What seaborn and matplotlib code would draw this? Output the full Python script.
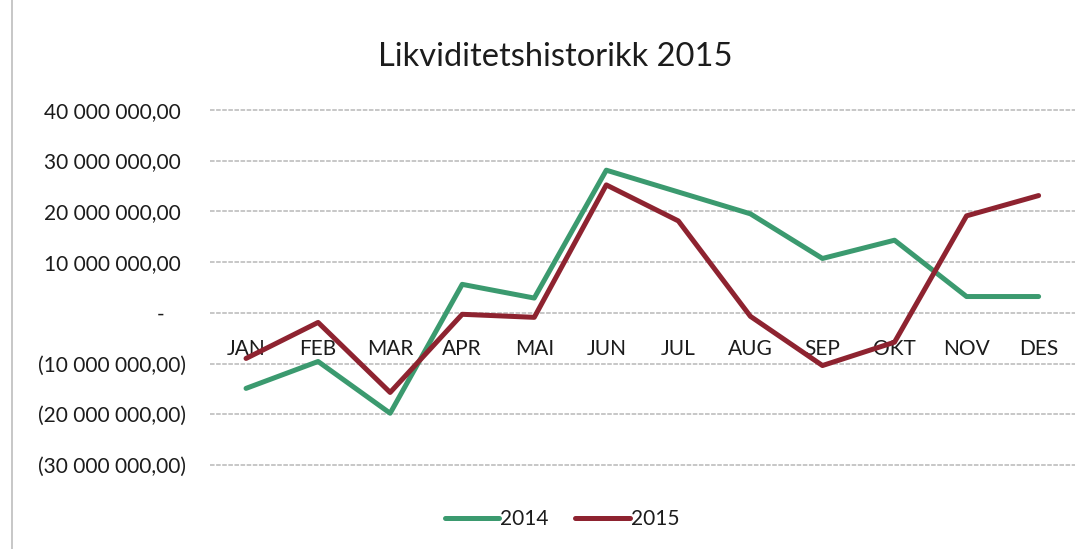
import matplotlib
matplotlib.use("Agg")
import matplotlib.pyplot as plt
import matplotlib.ticker as mticker
from matplotlib.lines import Line2D
import seaborn as sns
import pandas as pd

months = ["JAN", "FEB", "MAR", "APR", "MAI", "JUN", "JUL", "AUG", "SEP", "OKT", "NOV", "DES"]
values_2014 = [-14.9e6, -9.6e6, -19.8e6, 5.6e6, 2.9e6, 28.1e6, 23.8e6, 19.5e6, 10.7e6, 14.3e6, 3.2e6, 3.2e6]
values_2015 = [-9.0e6, -1.9e6, -15.7e6, -0.3e6, -0.9e6, 25.2e6, 18.1e6, -0.7e6, -10.4e6, -5.8e6, 19.1e6, 23.1e6]
series_names = ["2014", "2015"]
y_ticks = [-30e6, -20e6, -10e6, 0, 10e6, 20e6, 30e6, 40e6]

df = pd.DataFrame({
    "idx": list(range(len(months))) * 2,
    "value": values_2014 + values_2015,
    "series": [series_names[0]] * len(months) + [series_names[1]] * len(months),
})

sns.set_theme(style="white")
plt.rcParams["font.family"] = ["Lato", "DejaVu Sans"]

colors = {"2014": "#3b9a6f", "2015": "#8e2330"}
text_color = "#1c1c1c"

fig = plt.figure(figsize=(10.91, 5.49), dpi=100)
ax = fig.add_axes([0.1925, 0.153, 0.7925, 0.647])
ax.set_axisbelow(True)

sns.lineplot(data=df, x="idx", y="value", hue="series", palette=colors,
             linewidth=3.6, ax=ax, legend=False, zorder=3)

ax.set_xlim(-0.5, len(months) - 0.5)
ax.set_ylim(y_ticks[0], y_ticks[-1])
ax.set_yticks(y_ticks)


def fmt(v, pos):
    if abs(v) < 1:
        return "-    "
    s = f"{abs(v):,.2f}".replace(",", " ").replace(".", ",")
    return f"({s})" if v < 0 else s + " "


ax.yaxis.set_major_formatter(mticker.FuncFormatter(fmt))
ax.tick_params(axis="y", length=0, pad=17, labelsize=15, labelcolor=text_color)
ax.grid(axis="y", color="#b8b8b8", linewidth=1.1, linestyle=(0, (3, 1)))
ax.grid(axis="x", visible=False)
for gl in ax.get_ygridlines():
    gl.set_clip_on(False)

ax.set_xticks(range(len(months)))
ax.set_xticklabels(months)
ax.spines["bottom"].set_position(("data", 0))
ax.tick_params(axis="x", length=0, pad=19, labelsize=15, labelcolor=text_color)
for s in ["top", "right", "left", "bottom"]:
    ax.spines[s].set_visible(False)
ax.set_xlabel("")
ax.set_ylabel("")

fig.text(0.509, 0.897, "Likviditetshistorikk 2015", ha="center", va="center",
         fontsize=23.5, color=text_color)

handles = [Line2D([0], [0], color=colors[n], linewidth=3.6) for n in series_names]
fig.legend(handles, series_names, loc="center", bbox_to_anchor=(0.515, 0.055),
           ncol=2, frameon=False, fontsize=15, handlelength=2.6,
           handletextpad=0.05, columnspacing=1.3, labelcolor=text_color)

fig.add_artist(Line2D([0.011, 0.011], [0.0, 1.0], color="#bdbdbd", linewidth=1.2))

fig.savefig("out.png", dpi=100, facecolor="white")
